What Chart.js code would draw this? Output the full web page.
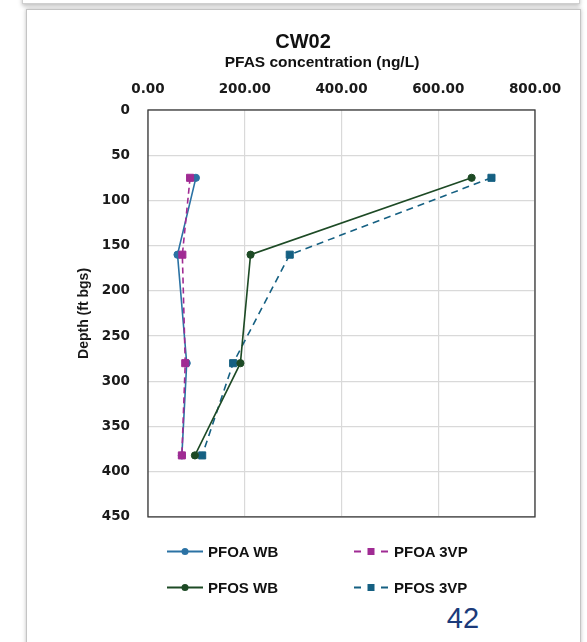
<!DOCTYPE html>
<html>
<head>
<meta charset="utf-8">
<script src="https://cdn.jsdelivr.net/npm/chart.js@4.4.1/dist/chart.umd.min.js"></script>
<style>
  html, body { margin: 0; padding: 0; background: #fff; }
  body { width: 587px; height: 642px; position: relative; overflow: hidden;
         font-family: "Liberation Sans", Arial, sans-serif; }
  .prev-card { position: absolute; left: 22px; top: -30px; width: 556px; height: 32px;
               background: #fff; border: 1px solid #cfcfcf; box-shadow: 0 2px 4px rgba(0,0,0,0.25); }
  .card { position: absolute; left: 26px; top: 9px; width: 553px; height: 700px;
          background: #fff; border: 1px solid #c4c4c4; box-shadow: 0 0 4px rgba(0,0,0,0.25); }
  #chartWrap { position: absolute; left: 0; top: 0; width: 587px; height: 543px; }
  .title { position: absolute; transform: translate(-50%, -50%); font-weight: bold;
           color: #111; white-space: nowrap; }
  .legend-item { position: absolute; display: flex; align-items: center; transform: translateY(-50%);
                 font-weight: bold; font-size: 15px; color: #111; }
  .legend-item svg { margin-right: 5px; }
  .page-num { position: absolute; left: 463px; top: 618px; transform: translate(-50%, -50%);
              font-size: 29px; color: #1b3a7a; }
</style>
</head>
<body>
<div class="prev-card"></div>
<div class="card"></div>
<div id="chartWrap"><canvas id="chart" width="587" height="543"></canvas></div>
<div class="title" style="left:303px; top:41px; font-size:20px;">CW02</div>
<div class="title" style="left:322px; top:62px; font-size:15.5px;">PFAS concentration (ng/L)</div>
<div id="legend"></div>
<div class="page-num">42</div>

<script>
// ── Data ──────────────────────────────────────────────────────────
const depths    = [75, 160, 280, 382];
const pfoaWB    = [99, 61, 80, 70];
const pfoa3VP   = [87, 71, 77, 70];
const pfosWB    = [669, 212, 191, 97];
const pfos3VP   = [710, 293, 176, 112];
const xTicks    = [0, 200, 400, 600, 800];
const yTicks    = [0, 50, 100, 150, 200, 250, 300, 350, 400, 450];

const series = [
  { label: "PFOA WB",  values: pfoaWB,  color: "#2b72a4", dash: [],     shape: "circle", order: 3 },
  { label: "PFOA 3VP", values: pfoa3VP, color: "#a02b93", dash: [6, 4], shape: "rect",   order: 1 },
  { label: "PFOS WB",  values: pfosWB,  color: "#1d4a25", dash: [],     shape: "circle", order: 2 },
  { label: "PFOS 3VP", values: pfos3VP, color: "#156082", dash: [7, 5], shape: "rect",   order: 4 },
];

const TICK_FONT = { family: "'DejaVu Sans', sans-serif", size: 13.5, weight: "bold" };

// ── Plot frame plugin ─────────────────────────────────────────────
const frame = {
  id: "frame",
  afterDatasetsDraw(chart) {
    const { ctx, chartArea: a } = chart;
    ctx.save();
    ctx.strokeStyle = "#3a3a3a";
    ctx.lineWidth = 1.3;
    ctx.strokeRect(a.left, a.top, a.right - a.left, a.bottom - a.top);
    ctx.restore();
  }
};

new Chart(document.getElementById("chart"), {
  type: "scatter",
  data: {
    datasets: series.map(s => ({
      label: s.label,
      data: s.values.map((v, i) => ({ x: v, y: depths[i] })),
      showLine: true,
      borderColor: s.color,
      backgroundColor: s.color,
      borderWidth: 1.6,
      borderDash: s.dash,
      pointStyle: s.shape,
      pointRadius: s.shape === "rect" ? 5 : 3.6,
      pointBorderWidth: 1,
      order: s.order,
    }))
  },
  plugins: [frame],
  options: {
    responsive: false,
    animation: false,
    layout: { padding: { left: 72, top: 70, right: 52, bottom: 14 } },
    plugins: { legend: { display: false }, tooltip: { enabled: false } },
    scales: {
      x: {
        position: "top",
        min: 0, max: 800,
        afterBuildTicks: s => { s.ticks = xTicks.map(v => ({ value: v })); },
        afterFit: s => { s.height = 40; },
        grid: { color: "#d9d9d9", lineWidth: 1.2, drawTicks: false },
        border: { display: false },
        ticks: { padding: 12, color: "#1a1a1a", font: TICK_FONT, callback: v => v.toFixed(2) },
      },
      y: {
        reverse: true,
        min: 0, max: 450,
        afterBuildTicks: s => { s.ticks = yTicks.map(v => ({ value: v })); },
        afterFit: s => { s.width = 76; },
        grid: { color: "#d9d9d9", lineWidth: 1.2, drawTicks: false },
        border: { display: false },
        ticks: { padding: 18, color: "#1a1a1a", font: TICK_FONT },
        title: {
          display: true, text: "Depth (ft bgs)", color: "#1a1a1a",
          padding: { top: 4, bottom: 0 },
          font: { family: "'Liberation Sans', Arial, sans-serif", size: 14, weight: "bold" },
        },
      },
    },
  },
});

// ── HTML legend (2 x 2) ───────────────────────────────────────────
const legendPos = [[167, 551], [353, 551], [167, 587], [353, 587]];
const legendEl = document.getElementById("legend");
series.forEach((s, i) => {
  const [x, y] = legendPos[i];
  const marker = s.shape === "circle"
    ? `<circle cx="18" cy="6" r="3.5" fill="${s.color}"/>`
    : `<rect x="14.5" y="2.5" width="7" height="7" fill="${s.color}"/>`;
  const line = s.dash.length
    ? `<line x1="1" y1="6" x2="8" y2="6" stroke="${s.color}" stroke-width="2"/>
       <line x1="28" y1="6" x2="35" y2="6" stroke="${s.color}" stroke-width="2"/>`
    : `<line x1="0" y1="6" x2="36" y2="6" stroke="${s.color}" stroke-width="2"/>`;
  const div = document.createElement("div");
  div.className = "legend-item";
  div.style.left = x + "px";
  div.style.top = y + "px";
  div.innerHTML = `<svg width="36" height="12">${line}${marker}</svg><span>${s.label}</span>`;
  legendEl.appendChild(div);
});
</script>
</body>
</html>
